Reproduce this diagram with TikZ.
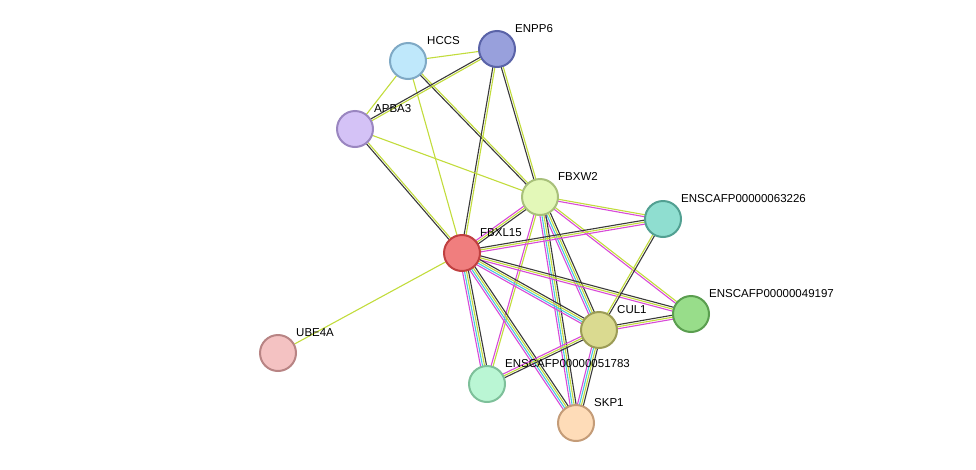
\documentclass[tikz,border=0pt]{standalone}
\usepackage{fontspec}
\setmainfont{Liberation Sans}
\usetikzlibrary{calc}
\definecolor{tm}{HTML}{C2DC3C}
\definecolor{co}{HTML}{3A3A3A}
\definecolor{ex}{HTML}{D84AD8}
\definecolor{db}{HTML}{4AC8E0}
\newcommand{\edg}[3]{% #1,#2 nodes, #3 list of offset/colour
  \foreach \o/\c in {#3}{\draw[\c,line width=1.1pt] ($(#1)!\o pt!90:(#2)$) -- ($(#2)!\o pt!-90:(#1)$);}}
\begin{document}
\begin{tikzpicture}[x=1pt,y=-1pt,
  prot/.style={circle,minimum size=36pt,inner sep=0pt,line width=2pt},
  lab/.style={anchor=south west,inner sep=1pt,font=\fontsize{11.5}{13}\selectfont}]
\useasboundingbox (0,0) rectangle (976,469);
\coordinate (HCCS) at (408,61);
\coordinate (ENPP6) at (497,49);
\coordinate (APBA3) at (355,129);
\coordinate (FBXW2) at (540,197);
\coordinate (E632) at (663,219);
\coordinate (FBXL15) at (462,253);
\coordinate (E491) at (691,314);
\coordinate (CUL1) at (599,330);
\coordinate (UBE4A) at (278,353);
\coordinate (E517) at (487,384);
\coordinate (SKP1) at (576,423);
% edges
\edg{HCCS}{ENPP6}{0/tm}
\edg{HCCS}{APBA3}{0/tm}
\edg{HCCS}{FBXW2}{-1/co,1/tm}
\edg{HCCS}{FBXL15}{0/tm}
\edg{ENPP6}{APBA3}{-1/co,1/tm}
\edg{ENPP6}{FBXW2}{-1/co,1/tm}
\edg{ENPP6}{FBXL15}{-1/co,1/tm}
\edg{APBA3}{FBXW2}{0/tm}
\edg{APBA3}{FBXL15}{-1/co,1/tm}
\edg{FBXL15}{UBE4A}{0/tm}
\edg{FBXW2}{FBXL15}{-2/ex,0/tm,2/co}
\edg{FBXW2}{E632}{-1/ex,1/tm}
\edg{FBXW2}{E491}{-1/ex,1/tm}
\edg{FBXW2}{CUL1}{-3/ex,-1/db,1/tm,3/co}
\edg{FBXW2}{SKP1}{-3/ex,-1/db,1/tm,3/co}
\edg{FBXW2}{E517}{-1/ex,1/tm}
\edg{FBXL15}{E632}{-2/ex,0/tm,2/co}
\edg{FBXL15}{E491}{-2/ex,0/tm,2/co}
\edg{FBXL15}{CUL1}{-3/ex,-1/db,1/tm,3/co}
\edg{FBXL15}{SKP1}{-3/ex,-1/db,1/tm,3/co}
\edg{FBXL15}{E517}{-3/ex,-1/db,1/tm,3/co}
\edg{CUL1}{E632}{-1/co,1/tm}
\edg{CUL1}{E491}{-2/ex,0/tm,2/co}
\edg{CUL1}{SKP1}{-3/ex,-1/db,1/tm,3/co}
\edg{CUL1}{E517}{-2/ex,0/tm,2/co}
% nodes
\node[prot,fill={rgb,255:red,191;green,232;blue,251},draw={rgb,255:red,127;green,169;blue,197}] (nHCCS) at (HCCS) {};
\node[prot,fill={rgb,255:red,152;green,160;blue,220},draw={rgb,255:red,90;green,99;blue,168}] (nENPP6) at (ENPP6) {};
\node[prot,fill={rgb,255:red,212;green,194;blue,246},draw={rgb,255:red,154;green,134;blue,192}] (nAPBA3) at (APBA3) {};
\node[prot,fill={rgb,255:red,227;green,248;blue,184},draw={rgb,255:red,168;green,192;blue,122}] (nFBXW2) at (FBXW2) {};
\node[prot,fill={rgb,255:red,143;green,222;blue,208},draw={rgb,255:red,82;green,160;blue,146}] (nE632) at (E632) {};
\node[prot,fill={rgb,255:red,240;green,126;blue,126},draw={rgb,255:red,192;green,64;blue,64}] (nFBXL15) at (FBXL15) {};
\node[prot,fill={rgb,255:red,152;green,221;blue,138},draw={rgb,255:red,90;green,158;blue,79}] (nE491) at (E491) {};
\node[prot,fill={rgb,255:red,218;green,218;blue,144},draw={rgb,255:red,156;green,156;blue,86}] (nCUL1) at (CUL1) {};
\node[prot,fill={rgb,255:red,244;green,194;blue,194},draw={rgb,255:red,184;green,132;blue,132}] (nUBE4A) at (UBE4A) {};
\node[prot,fill={rgb,255:red,186;green,246;blue,212},draw={rgb,255:red,126;green,192;blue,154}] (nE517) at (E517) {};
\node[prot,fill={rgb,255:red,254;green,220;blue,184},draw={rgb,255:red,196;green,156;blue,120}] (nSKP1) at (SKP1) {};
% labels
\node[lab] at (426,46) {HCCS};
\node[lab] at (514,34) {ENPP6};
\node[lab] at (373,114) {APBA3};
\node[lab] at (557,182) {FBXW2};
\node[lab] at (680,204) {ENSCAFP00000063226};
\node[lab] at (479,238) {FBXL15};
\node[lab] at (708,299) {ENSCAFP00000049197};
\node[lab] at (616,315) {CUL1};
\node[lab] at (295,338) {UBE4A};
\node[lab] at (504,369) {ENSCAFP00000051783};
\node[lab] at (593,408) {SKP1};
\end{tikzpicture}
\end{document}
